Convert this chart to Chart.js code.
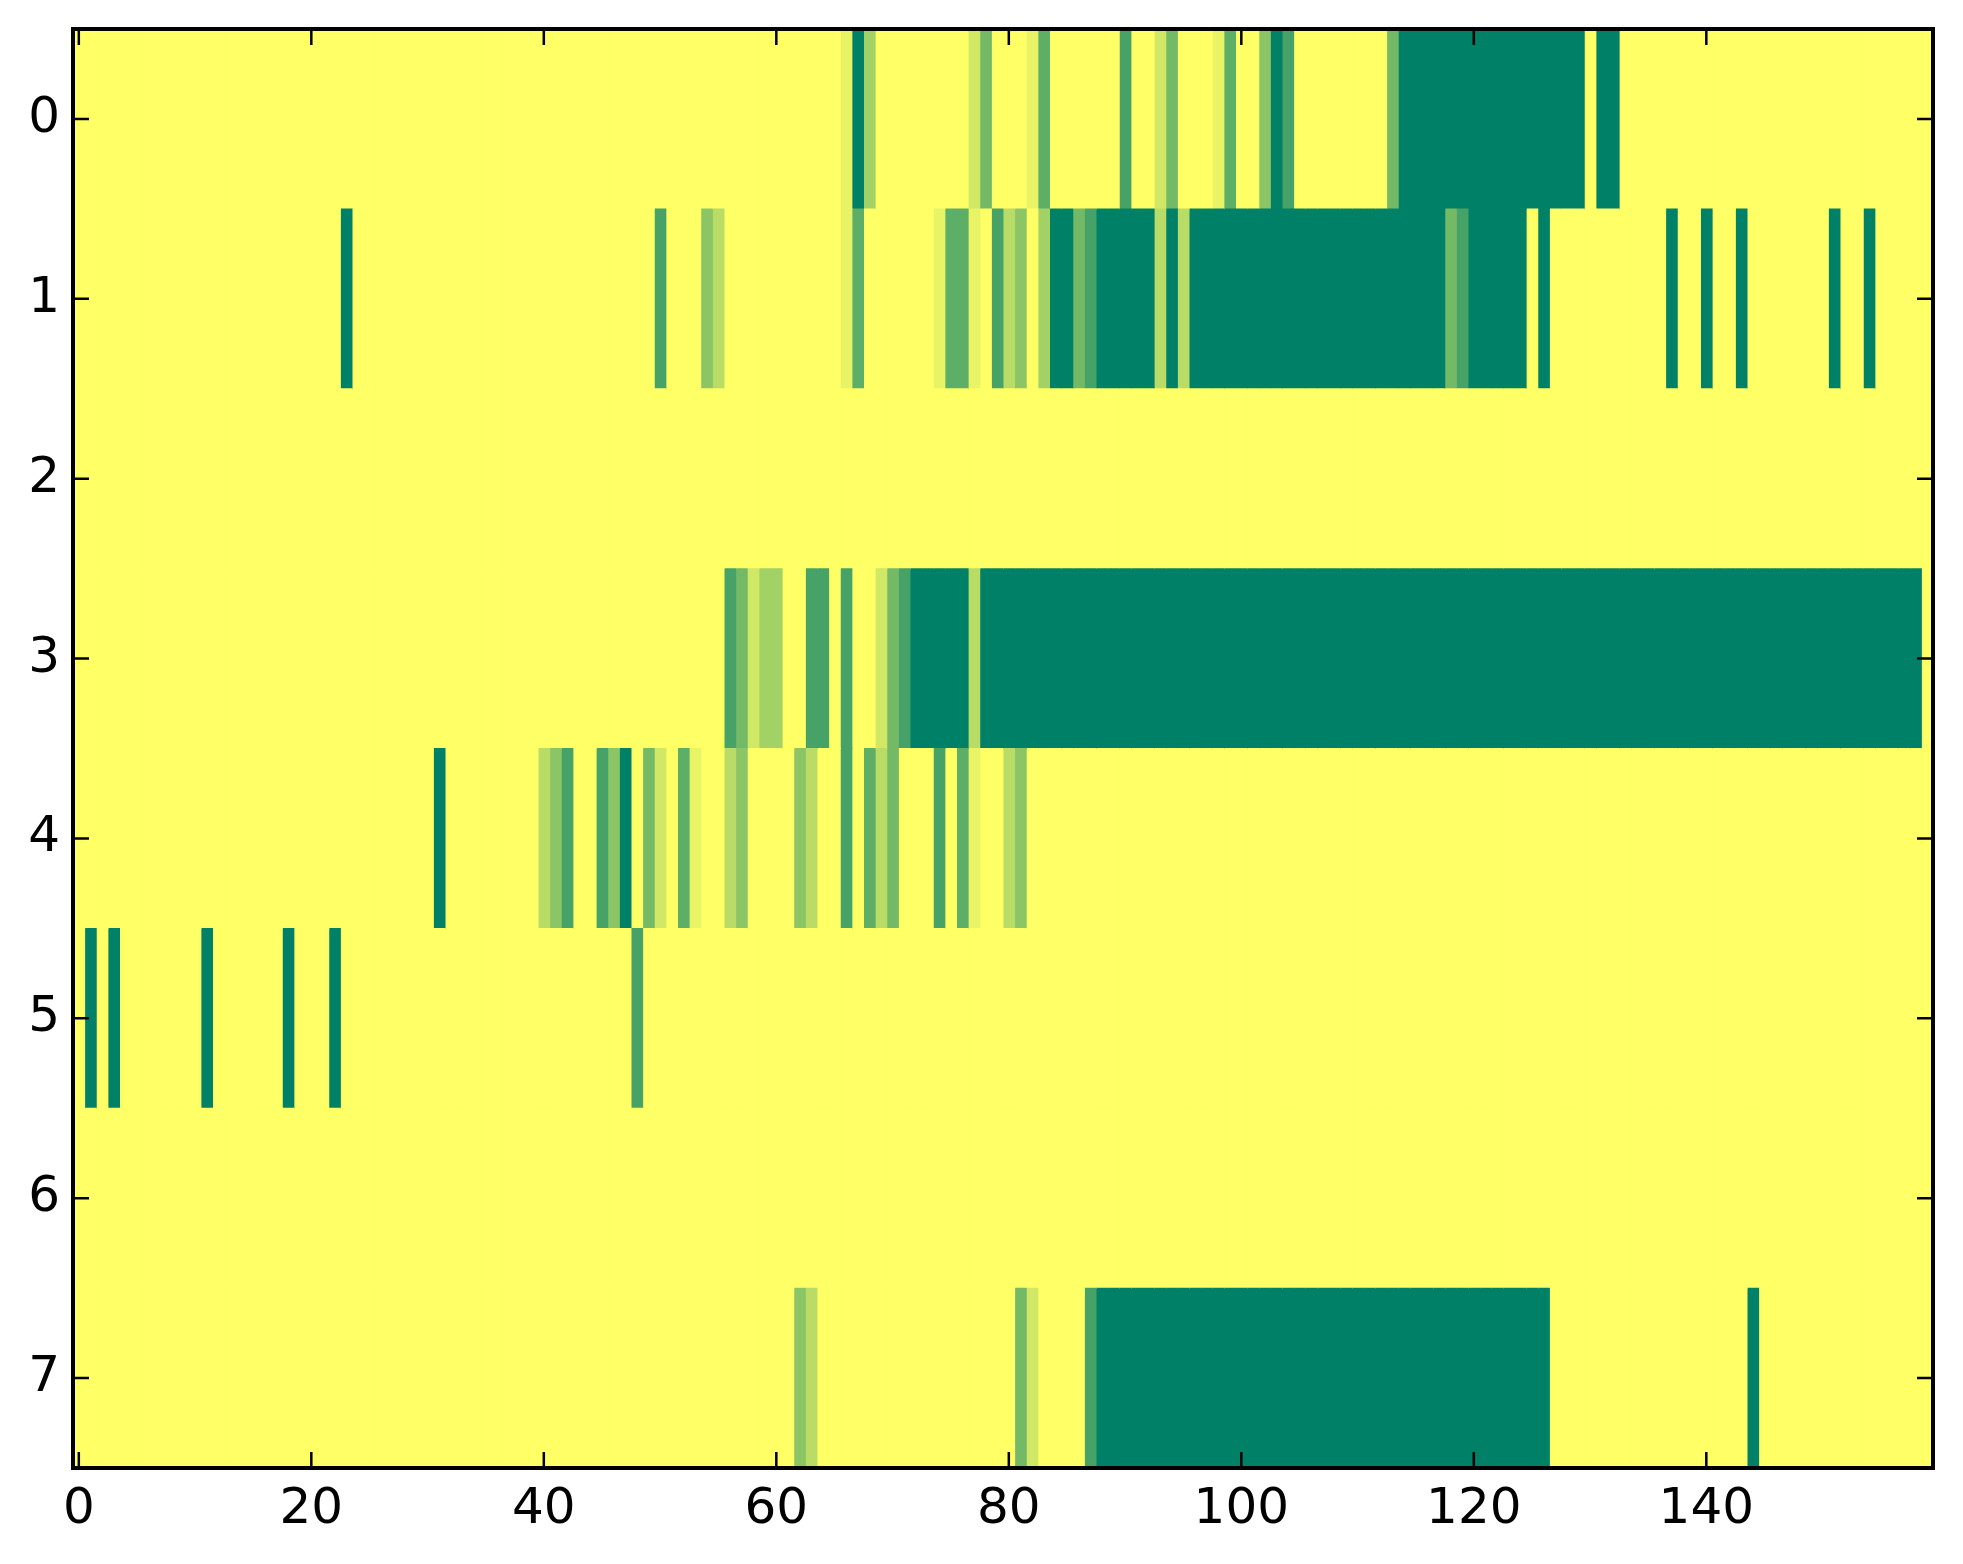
<!DOCTYPE html>
<html>
<head>
<meta charset="utf-8">
<script src="https://cdn.jsdelivr.net/npm/chart.js@4.4.1/dist/chart.umd.min.js"></script>
<style>
html,body{margin:0;padding:0;background:#fff;}
#wrap{width:1963px;height:1564px;}
</style>
</head>
<body>
<div id="wrap"><canvas id="c" width="1963" height="1564"></canvas></div>
<script>
// ---- data ----
const rowLabels = ['0','1','2','3','4','5','6','7'];
const xTickValues = [0, 20, 40, 60, 80, 100, 120, 140];
const VMAX = 11;

const row0 = [
0,0,0,0,0,0,0,0,0,0,
0,0,0,0,0,0,0,0,0,0,
0,0,0,0,0,0,0,0,0,0,
0,0,0,0,0,0,0,0,0,0,
0,0,0,0,0,0,0,0,0,0,
0,0,0,0,0,0,0,0,0,0,
0,0,0,0,0,0,1,11,4,0,
0,0,0,0,0,0,0,2,6,0,
0,0,1,7,0,0,0,0,0,0,
8,0,0,2,6,0,0,0,1,7,
0,0,5,11,8,0,0,0,0,0,
0,0,0,6,11,11,11,11,11,11,
11,11,11,11,11,11,11,11,11,11,
0,11,11,0,0,0,0,0,0,0,
0,0,0,0,0,0,0,0,0,0,
0,0,0,0,0,0,0,0,0,0
];
const row1 = [
0,0,0,0,0,0,0,0,0,0,
0,0,0,0,0,0,0,0,0,0,
0,0,0,11,0,0,0,0,0,0,
0,0,0,0,0,0,0,0,0,0,
0,0,0,0,0,0,0,0,0,0,
8,0,0,0,5,3,0,0,0,0,
0,0,0,0,0,0,1,7,0,0,
0,0,0,0,1,7,7,1,0,8,
3,5,0,4,11,11,6,8,11,11,
11,11,11,3,11,3,11,11,11,11,
11,11,11,11,11,11,11,11,11,11,
11,11,11,11,11,11,11,11,6,8,
11,11,11,11,11,0,11,0,0,0,
0,0,0,0,0,0,0,11,0,0,
11,0,0,11,0,0,0,0,0,0,
0,11,0,0,11,0,0,0,0,0
];
const row2 = [
0,0,0,0,0,0,0,0,0,0,
0,0,0,0,0,0,0,0,0,0,
0,0,0,0,0,0,0,0,0,0,
0,0,0,0,0,0,0,0,0,0,
0,0,0,0,0,0,0,0,0,0,
0,0,0,0,0,0,0,0,0,0,
0,0,0,0,0,0,0,0,0,0,
0,0,0,0,0,0,0,0,0,0,
0,0,0,0,0,0,0,0,0,0,
0,0,0,0,0,0,0,0,0,0,
0,0,0,0,0,0,0,0,0,0,
0,0,0,0,0,0,0,0,0,0,
0,0,0,0,0,0,0,0,0,0,
0,0,0,0,0,0,0,0,0,0,
0,0,0,0,0,0,0,0,0,0,
0,0,0,0,0,0,0,0,0,0
];
const row3 = [
0,0,0,0,0,0,0,0,0,0,
0,0,0,0,0,0,0,0,0,0,
0,0,0,0,0,0,0,0,0,0,
0,0,0,0,0,0,0,0,0,0,
0,0,0,0,0,0,0,0,0,0,
0,0,0,0,0,0,8,6,2,4,
4,0,0,8,8,0,8,0,0,2,
6,8,11,11,11,11,11,3,11,11,
11,11,11,11,11,11,11,11,11,11,
11,11,11,11,11,11,11,11,11,11,
11,11,11,11,11,11,11,11,11,11,
11,11,11,11,11,11,11,11,11,11,
11,11,11,11,11,11,11,11,11,11,
11,11,11,11,11,11,11,11,11,11,
11,11,11,11,11,11,11,11,11,11,
11,11,11,11,11,11,11,11,11,0
];
const row4 = [
0,0,0,0,0,0,0,0,0,0,
0,0,0,0,0,0,0,0,0,0,
0,0,0,0,0,0,0,0,0,0,
0,11,0,0,0,0,0,0,0,0,
3,5,8,0,0,8,5,11,0,6,
2,0,7,1,0,0,3,5,0,0,
0,0,5,3,0,0,8,0,7,3,
6,0,0,0,8,0,7,1,0,0,
3,5,0,0,0,0,0,0,0,0,
0,0,0,0,0,0,0,0,0,0,
0,0,0,0,0,0,0,0,0,0,
0,0,0,0,0,0,0,0,0,0,
0,0,0,0,0,0,0,0,0,0,
0,0,0,0,0,0,0,0,0,0,
0,0,0,0,0,0,0,0,0,0,
0,0,0,0,0,0,0,0,0,0
];
const row5 = [
0,11,0,11,0,0,0,0,0,0,
0,11,0,0,0,0,0,0,11,0,
0,0,11,0,0,0,0,0,0,0,
0,0,0,0,0,0,0,0,0,0,
0,0,0,0,0,0,0,0,8,0,
0,0,0,0,0,0,0,0,0,0,
0,0,0,0,0,0,0,0,0,0,
0,0,0,0,0,0,0,0,0,0,
0,0,0,0,0,0,0,0,0,0,
0,0,0,0,0,0,0,0,0,0,
0,0,0,0,0,0,0,0,0,0,
0,0,0,0,0,0,0,0,0,0,
0,0,0,0,0,0,0,0,0,0,
0,0,0,0,0,0,0,0,0,0,
0,0,0,0,0,0,0,0,0,0,
0,0,0,0,0,0,0,0,0,0
];
const row6 = [
0,0,0,0,0,0,0,0,0,0,
0,0,0,0,0,0,0,0,0,0,
0,0,0,0,0,0,0,0,0,0,
0,0,0,0,0,0,0,0,0,0,
0,0,0,0,0,0,0,0,0,0,
0,0,0,0,0,0,0,0,0,0,
0,0,0,0,0,0,0,0,0,0,
0,0,0,0,0,0,0,0,0,0,
0,0,0,0,0,0,0,0,0,0,
0,0,0,0,0,0,0,0,0,0,
0,0,0,0,0,0,0,0,0,0,
0,0,0,0,0,0,0,0,0,0,
0,0,0,0,0,0,0,0,0,0,
0,0,0,0,0,0,0,0,0,0,
0,0,0,0,0,0,0,0,0,0,
0,0,0,0,0,0,0,0,0,0
];
const row7 = [
0,0,0,0,0,0,0,0,0,0,
0,0,0,0,0,0,0,0,0,0,
0,0,0,0,0,0,0,0,0,0,
0,0,0,0,0,0,0,0,0,0,
0,0,0,0,0,0,0,0,0,0,
0,0,0,0,0,0,0,0,0,0,
0,0,5,3,0,0,0,0,0,0,
0,0,0,0,0,0,0,0,0,0,
0,6,2,0,0,0,0,8,11,11,
11,11,11,11,11,11,11,11,11,11,
11,11,11,11,11,11,11,11,11,11,
11,11,11,11,11,11,11,11,11,11,
11,11,11,11,11,11,11,0,0,0,
0,0,0,0,0,0,0,0,0,0,
0,0,0,0,11,0,0,0,0,0,
0,0,0,0,0,0,0,0,0,0
];

const rows = [row0, row1, row2, row3, row4, row5, row6, row7];
const nCols = row0.length;

// summer_r colormap
function cmap(v) {
  const t = Math.max(0, Math.min(1, v / VMAX));
  const r = Math.round(255 * (1 - t));
  const g = Math.round(255 * (1 - 0.5 * t));
  return 'rgb(' + r + ',' + g + ',102)';
}

const datasets = [];
for (let c = 0; c < nCols; c++) {
  datasets.push({
    data: rowLabels.map(() => [c - 0.5, c + 0.5]),
    backgroundColor: rows.map(r => cmap(r[c])),
    borderWidth: 0,
    barPercentage: 1,
    categoryPercentage: 1,
    grouped: false,
    inflateAmount: 0.5
  });
}

const FONT = { family: 'DejaVu Sans', size: 50 };

const framePlugin = {
  id: 'frame',
  beforeDraw(chart) {
    const ctx = chart.ctx;
    ctx.save();
    ctx.fillStyle = '#ffffff';
    ctx.fillRect(0, 0, chart.width, chart.height);
    ctx.restore();
  },
  afterDatasetsDraw(chart) {
    const ctx = chart.ctx;
    const a = chart.chartArea;
    const xs = chart.scales.x, ys = chart.scales.y;
    const L = 16;
    ctx.save();
    ctx.strokeStyle = '#000';
    ctx.lineWidth = 2.5;
    ctx.beginPath();
    xs.ticks.forEach(t => {
      const px = xs.getPixelForValue(t.value);
      ctx.moveTo(px, a.bottom); ctx.lineTo(px, a.bottom - L);
      ctx.moveTo(px, a.top); ctx.lineTo(px, a.top + L);
    });
    ys.ticks.forEach((t, i) => {
      const py = ys.getPixelForTick(i);
      ctx.moveTo(a.left, py); ctx.lineTo(a.left + L, py);
      ctx.moveTo(a.right, py); ctx.lineTo(a.right - L, py);
    });
    ctx.stroke();
    ctx.lineWidth = 4;
    ctx.strokeRect(a.left, a.top, a.right - a.left, a.bottom - a.top);
    ctx.restore();
  }
};

new Chart(document.getElementById('c'), {
  type: 'bar',
  data: { labels: rowLabels, datasets: datasets },
  plugins: [framePlugin],
  options: {
    responsive: false,
    animation: false,
    devicePixelRatio: 1,
    indexAxis: 'y',
    layout: { padding: { top: 29, right: 30, left: 0, bottom: 0 } },
    plugins: { legend: { display: false }, tooltip: { enabled: false } },
    scales: {
      x: {
        type: 'linear',
        position: 'bottom',
        min: -0.5,
        max: nCols - 0.5,
        grid: { display: false, drawTicks: false },
        border: { display: false },
        afterBuildTicks(s) { s.ticks = xTickValues.map(v => ({ value: v })); },
        afterFit(s) { s.height = 96; s.paddingLeft = 0; s.paddingRight = 0; },
        ticks: {
          autoSkip: false, maxRotation: 0, minRotation: 0,
          color: '#000', font: FONT, padding: 12,
          callback: v => String(v)
        }
      },
      y: {
        type: 'category',
        labels: rowLabels,
        offset: true,
        grid: { display: false, drawTicks: false },
        border: { display: false },
        afterFit(s) { s.width = 73; s.paddingTop = 0; s.paddingBottom = 0; },
        ticks: { color: '#000', font: FONT, padding: 13 }
      }
    }
  }
});
</script>
</body>
</html>
